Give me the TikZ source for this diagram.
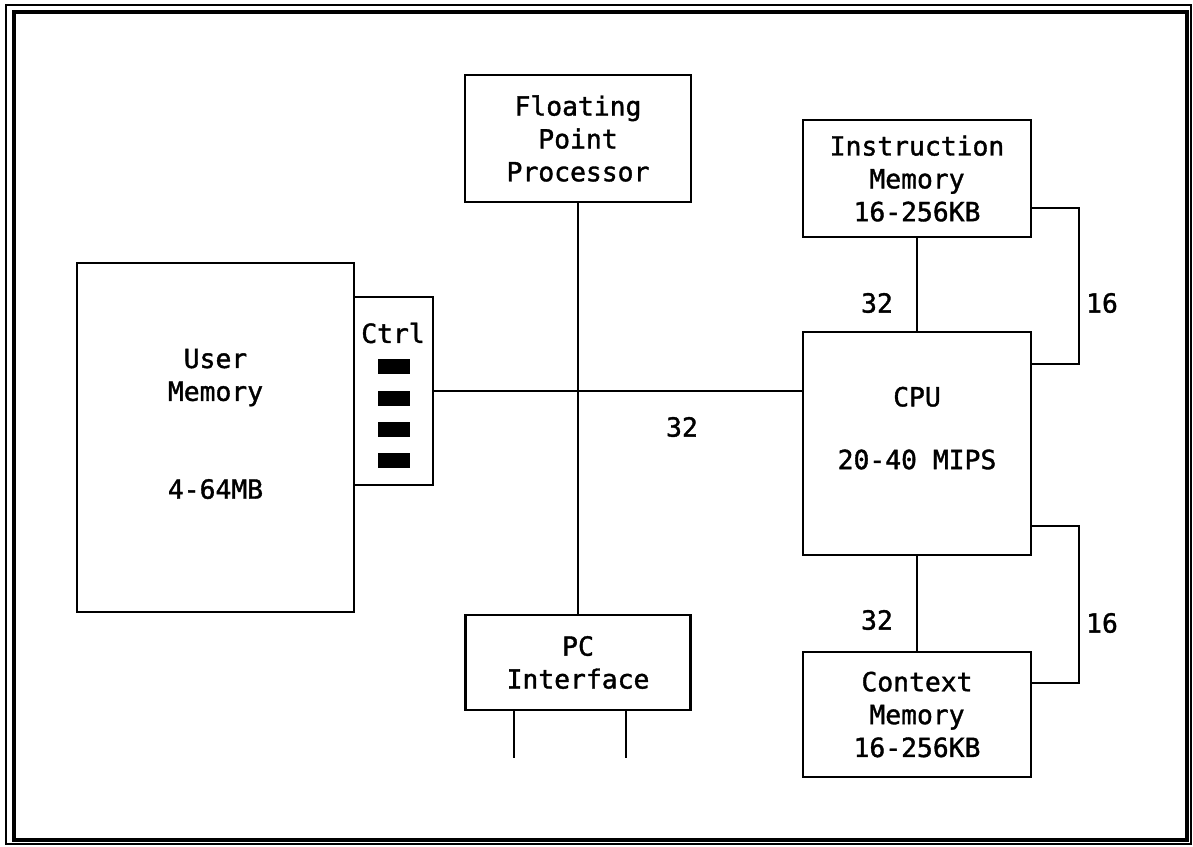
\documentclass[tikz,border=0pt]{standalone}
\usepackage{fontspec}
\usepackage{tikz}
\usetikzlibrary{calc,positioning}
\newfontfamily\diagfont[FakeBold=1.4]{DejaVu Sans Mono}

\begin{document}
\begin{tikzpicture}[x=0.02cm,y=-0.02cm,
  blk/.style={draw, line width=1.5pt, inner sep=0pt, align=center,
    font=\diagfont\fontsize{15}{18.7}\selectfont},
  wire/.style={line width=1.1pt},
  busnum/.style={font=\diagfont\fontsize{15}{18}\selectfont}]
\useasboundingbox (0,0) rectangle (1193,846);
\draw[line width=0.8pt] (6,5) rectangle (1191,844);
\draw[line width=2pt] (14,12) rectangle (1187,840);
\node[blk, minimum width=5.54cm, minimum height=6.98cm] (umem) at (215.5,437.5)
  {User\\Memory\\[37pt]4-64MB\\[-3pt]\mbox{}};
\node[blk, minimum width=1.58cm, minimum height=3.76cm] (ctrl) at (393.5,391) {};
\node[busnum] (ctrllbl) at (393,333) {Ctrl};
\foreach \yy in {366,398,429,460}
  \fill (378,\yy-7.5) rectangle (410,\yy+7.5);
\node[blk, minimum width=4.52cm, minimum height=2.54cm] (fpp) at (578,138.5)
  {Floating\\Point\\Processor};
\node[blk, minimum width=4.5cm, minimum height=1.9cm] (pc) at (578,662.5)
  {PC\\Interface};
\node[blk, minimum width=4.56cm, minimum height=2.34cm] (imem) at (917,178.5)
  {Instruction\\Memory\\16-256KB};
\node[blk, minimum width=4.56cm, minimum height=4.46cm] (cpu) at (917,443.5)
  {CPU\\[17pt]20-40 MIPS\\[-1pt]\mbox{}};
\node[blk, minimum width=4.56cm, minimum height=2.5cm] (cmem) at (917,714.5)
  {Context\\Memory\\16-256KB};
\draw[wire] (ctrl.east) -- (ctrl.east -| cpu.west);
\draw[wire] (fpp.south) -- (pc.north);
\draw[wire] (imem.south) -- (cpu.north);
\draw[wire] (cpu.south) -- (cmem.north);
\draw[wire] ([yshift=0.6cm]imem.south east) -- ++(47,0) |- ([yshift=-0.66cm]cpu.north east);
\draw[wire] ([yshift=0.6cm]cpu.south east) -- ++(47,0) |- ([yshift=-0.64cm]cmem.north east);
\draw[wire] ([xshift=-1.28cm]pc.south) -- ++(0,47);
\draw[wire] ([xshift=0.96cm]pc.south) -- ++(0,47);
\node[busnum] (wbus) at (682,427) {32};
\node[busnum] (wimem) at (877,303) {32};
\node[busnum] (wcmem) at (877,620) {32};
\node[busnum] (nimem) at (1102,303) {16};
\node[busnum] (ncmem) at (1102,623) {16};
\end{tikzpicture}
\end{document}
